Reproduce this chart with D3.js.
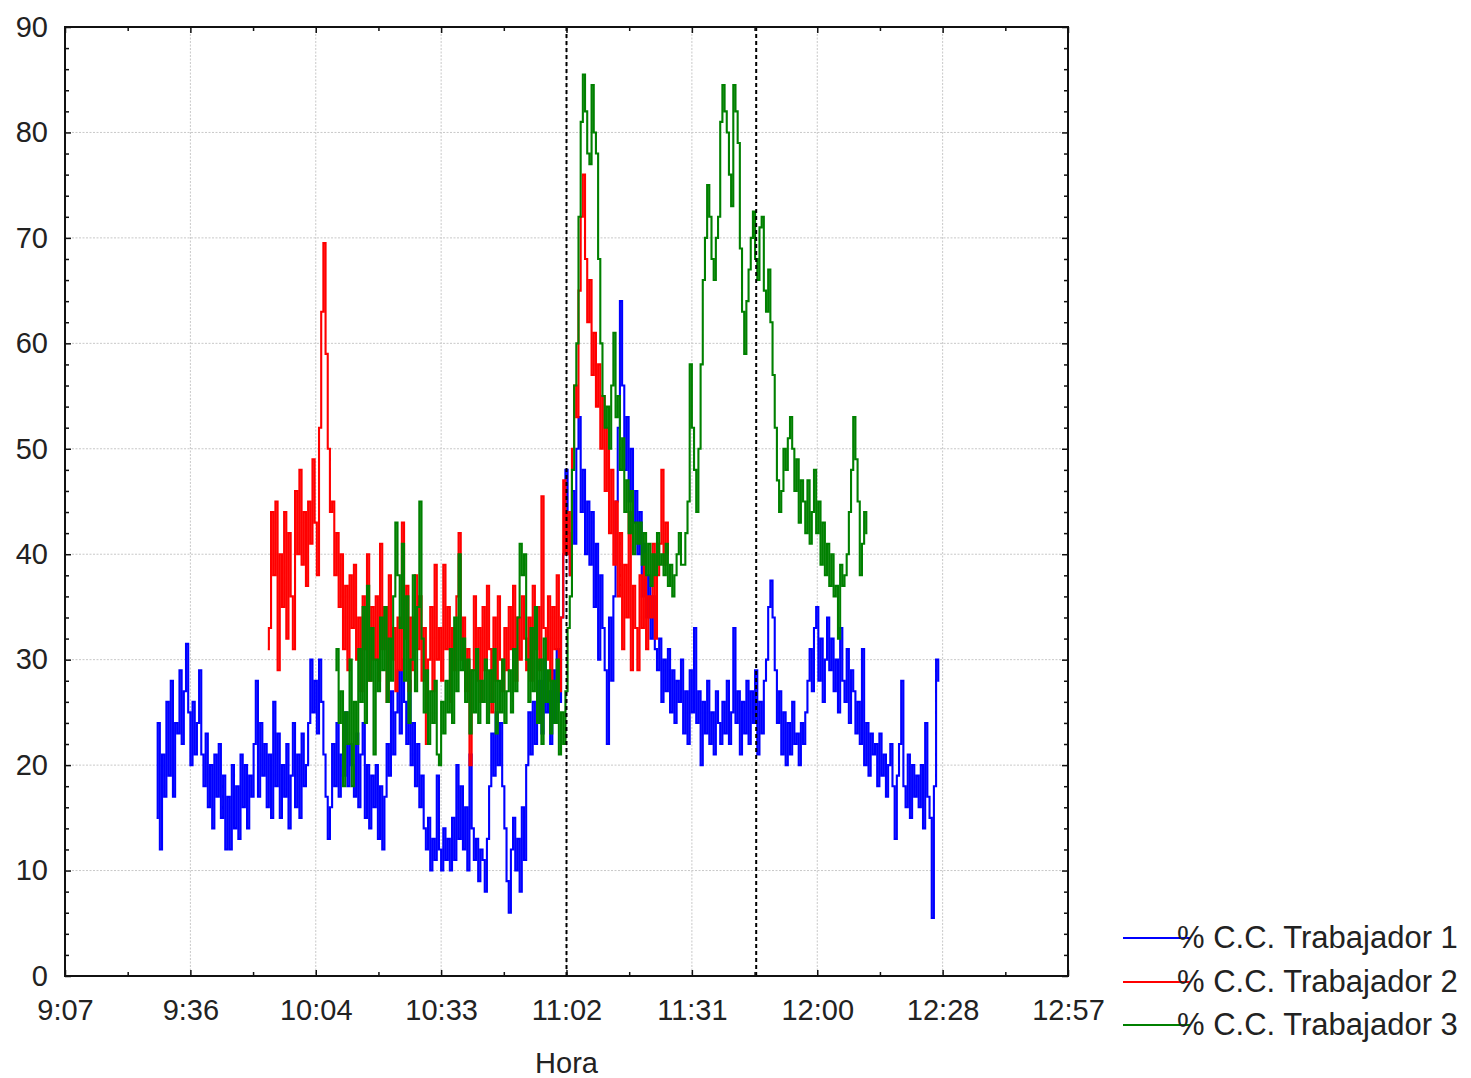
<!DOCTYPE html>
<html>
<head>
<meta charset="utf-8">
<script src="https://cdn.jsdelivr.net/npm/d3@7"></script>
<style>
  body { margin: 0; background: #ffffff; }
  svg { display: block; }
  text { font-family: "Liberation Sans", Arial, sans-serif; fill: #222; }
</style>
</head>
<body>
<script>
// ---------------- DATA ----------------
// time axis (minutes since midnight): 9:07 .. 12:57
const timeStart = 547;   // 9:07
const timeEnd = 777;     // 12:57
const xTickLabels = ["9:07", "9:36", "10:04", "10:33", "11:02", "11:31", "12:00", "12:28", "12:57"];
const yTickValues = [0, 10, 20, 30, 40, 50, 60, 70, 80, 90];
const markerTimes = [662, 705.5]; // dashed reference lines (11:02 and ~11:45)
const seriesNames = ["% C.C. Trabajador 1", "% C.C. Trabajador 2", "% C.C. Trabajador 3"];
const seriesColors = ["#0000ff", "#ff0000", "#008000"];
const sampleStep = 0.5; // minutes between samples

// Trabajador 1 (starts 9:28)
const worker1Start = 568;
const worker1 = [
15,24,12,21,17,26,19,28,17,24,
23,29,22,27,31.5,25,20,26,21,24,
29,21,18,23,16,20,14,21,17,22,
15,19,12,17,12,20,14,18,13,21,
16,20,14,19,17,22,28,17,24,19,
22,16,21,15,26,18,23,15,20,17,
22,14,19,24,16,21,15,23,18,20,
24,30,25,28,23,30,26,21,17,13,
16,22,18,24,17,21,19,25,18,22,
20,17,23,16,21,24,15,20,14,19,
16,20,13,18,12,17,22,19,27,21,
25,29,23,30,26,22,28,20,24,18,
22,16,19,14,12,15,10,13,11,19,
12,10,14,11,13,10,15,11,20,13,
18,12,16,10,21,14,11,13,9,12,
11,8,13,18,23,19,25,20,24,18,
14,9,6,12,15,10,13,8,16,11,
20,25,21,26,22,24,28,23,30,25,
27,22,29,24,31,26,34,40,48,42,
38,46,41,50,53,44,48,40,45,39,
44,35,41,30,38,33,29,22,34,28,
36,45,52,64,56,48,53,45,50,43,
46,40,44,36,41,34,38,32,36,31,
29,32,26,30,27,31,25,29,24,28,
26,30,23,27,22,29,25,33,24,27,
20,26,23,28,22,25,21,27,24,22,
26,23,28,22,25,33,24,27,21,26,
23,28,22,27,24,29,21,26,23,28,
30,35,37.5,34,29,24,27,21,25,20,
24,21,26,22,23,20,24,22,25,28,
31,27,33,35,28,32,26,30,34,29,
32,27,30,25,33,28,26,31,24,29,
27,23,26,22,31,20,24,19,23,21,
22,18,23,19,21,17,20,22,18,13,
19,22,28,18,16,21,15,20,17,19,
16,20,14,24,17,15,5.5,18,30,28
];

// Trabajador 2 (starts 9:53:30)
const worker2Start = 593.5;
const worker2 = [
31,33,44,38,45,29,40,35,44,32,
42,36,31,46,40,48,39,44,37,45,
41,49,43,38,52,63,69.5,59,50,44,
45,38,42,35,40,31,37,29,38,33,
39,30,34,27,36,31,40,28,35,30,
36,28,41,31,35,26,38,30,33,27,
34,29,43,32,37,27,34,29,38,31,
36,28,33,22,30,35,27,39,30,33,
28,39,31,35,26,33,29,36,42,30,
34,27,31,20,29,36,28,33,26,35,
29,37,31,25,34,28,36,30,27,33,
29,35,31,37,28,34,30,36,32,29,
34,28,37,31,35,29,45.5,33,30,36,
28,35,31,38,27,34,47,40,44,38,
50,56,53,65,72,76,68,62,66,57,
61,54,58,50,55,46,52,42,48,39,
45,36,42,31,39,34,44,29,37,33,
29,38,33,40,31,36,34,41,32,38,
41,48,39,43,40
];

// Trabajador 3 (starts 10:09)
const worker3Start = 609;
const worker3 = [
29,31,24,27,18,25,22,30,18,26,
22,31,26,35,24,37,28,33,21,30,
27,34,29,35,26,32,28,36,43,38,
33,41,28,36,24,30,38,27,35,45,
32,25,29,22,27,24,28,21,20,26,
23,28,25,31,24,34,27,40,29,32,
26,30,23,29,25,31,24,28,26,30,
24,29,26,31,23,28,25,30,24,27,
29,25,31,27,34,41,38,40,30,26,
33,27,35,24,30,22,32,26,29,23,
28,24,30,21,25,22,27,33,36,48,
56,60,72,81,85.5,82,78,77,84.5,80,
78,68,60,55,52,54,50,56,61,53,
55,48,51,44,47,42,46,40,43,41,
43,39,42,38,41,37,40,38,42,39,
40,38,41,37,39,36,38,40,42,39,
39,42,45,58,52,48,44,50,58,66,
70,75,72,68,66,70,72,81,84.5,82,
80,76,73,84.5,82,79,69,63,59,64,
67,70,72.5,68,66,71,72,65,63,67,
62,57,52,47,44,46,50,48,51,53,
50,46,49,43,47,45,42,47,41,44,
48,42,45,39,43,38,41,37,40,36,
37,32,39,37,38,40,44,48,53,49,
45,38,41,44,42
];

const seriesStarts = [worker1Start, worker2Start, worker3Start];
const seriesValues = [worker1, worker2, worker3];

// ---------------- CHART ----------------
const W = 1471, H = 1078;
const L = 65, R = 1068, T = 27, B = 976;

const svg = d3.select("body").append("svg").attr("width", W).attr("height", H);

const x = d3.scaleLinear().domain([timeStart, timeEnd]).range([L, R]);
const y = d3.scaleLinear().domain([0, 90]).range([B, T]);

const xTickValues = xTickLabels.map((_, i) => timeStart + i * (timeEnd - timeStart) / (xTickLabels.length - 1));
const xMinor = d3.range(xTickLabels.length - 1).map(i => (xTickValues[i] + xTickValues[i + 1]) / 2);
const yMinor = d3.range(0, 91, 2).filter(v => v % 10 !== 0);

// gridlines
const grid = svg.append("g");
grid.selectAll("line.gx").data(xTickValues.slice(1, -1)).join("line")
  .attr("x1", d => x(d)).attr("x2", d => x(d)).attr("y1", T).attr("y2", B)
  .attr("stroke", "#c8c8c8").attr("stroke-width", 1).attr("stroke-dasharray", "2,1.5");
grid.selectAll("line.gy").data(yTickValues.slice(1, -1)).join("line")
  .attr("x1", L).attr("x2", R).attr("y1", d => y(d)).attr("y2", d => y(d))
  .attr("stroke", "#c8c8c8").attr("stroke-width", 1).attr("stroke-dasharray", "2,1.5");

// series
const line = d3.line().curve(d3.curveStep);
seriesValues.forEach((vals, k) => {
  const start = seriesStarts[k];
  svg.append("path")
    .attr("d", line.x((d, i) => x(start + i * sampleStep)).y(d => y(d))(vals))
    .attr("fill", "none")
    .attr("stroke", seriesColors[k])
    .attr("stroke-width", 2.1)
    .attr("stroke-linejoin", "miter");
});

// dashed markers
svg.selectAll("line.marker").data(markerTimes).join("line")
  .attr("x1", d => x(d)).attr("x2", d => x(d)).attr("y1", T).attr("y2", B)
  .attr("stroke", "#000").attr("stroke-width", 2).attr("stroke-dasharray", "4,3");

// axes (ticks inside)
function styleAxis(g) {
  g.select(".domain").remove();
  g.selectAll(".tick line").attr("stroke", "#111").attr("stroke-width", 1.5);
  g.selectAll(".tick text").attr("font-size", 29).attr("fill", "#222")
    .attr("font-family", "'Liberation Sans', Arial, sans-serif");
}
svg.append("g").attr("transform", `translate(${L},0)`)
  .call(d3.axisLeft(y).tickValues(yTickValues).tickSize(-6).tickPadding(17).tickFormat(d3.format("d")))
  .call(styleAxis);
svg.append("g").attr("transform", `translate(${L},0)`)
  .call(d3.axisLeft(y).tickValues(yMinor).tickSize(-4).tickFormat(""))
  .call(styleAxis);
svg.append("g").attr("transform", `translate(${R},0)`)
  .call(d3.axisRight(y).tickValues(yTickValues).tickSize(-6).tickFormat(""))
  .call(styleAxis);
svg.append("g").attr("transform", `translate(${R},0)`)
  .call(d3.axisRight(y).tickValues(yMinor).tickSize(-4).tickFormat(""))
  .call(styleAxis);
svg.append("g").attr("transform", `translate(0,${B})`)
  .call(d3.axisBottom(x).tickValues(xTickValues).tickSize(-6).tickPadding(23)
    .tickFormat((d, i) => xTickLabels[i]))
  .call(styleAxis);
svg.append("g").attr("transform", `translate(0,${B})`)
  .call(d3.axisBottom(x).tickValues(xMinor).tickSize(-4).tickFormat(""))
  .call(styleAxis);
svg.append("g").attr("transform", `translate(0,${T})`)
  .call(d3.axisTop(x).tickValues(xTickValues).tickSize(-6).tickFormat(""))
  .call(styleAxis);
svg.append("g").attr("transform", `translate(0,${T})`)
  .call(d3.axisTop(x).tickValues(xMinor).tickSize(-4).tickFormat(""))
  .call(styleAxis);

// frame
svg.append("rect").attr("x", L).attr("y", T).attr("width", R - L).attr("height", B - T)
  .attr("fill", "none").attr("stroke", "#111").attr("stroke-width", 2);

// x title
svg.append("text").attr("x", x(662)).attr("y", 1073).attr("text-anchor", "middle")
  .attr("font-size", 29).text("Hora");

// legend
const legendRows = [938, 982, 1025];
seriesNames.forEach((name, k) => {
  svg.append("line").attr("x1", 1123).attr("x2", 1190)
    .attr("y1", legendRows[k]).attr("y2", legendRows[k])
    .attr("stroke", seriesColors[k]).attr("stroke-width", 2);
  svg.append("text").attr("x", 1177).attr("y", legendRows[k] + 10)
    .attr("font-size", 31).text(name);
});
</script>
</body>
</html>
